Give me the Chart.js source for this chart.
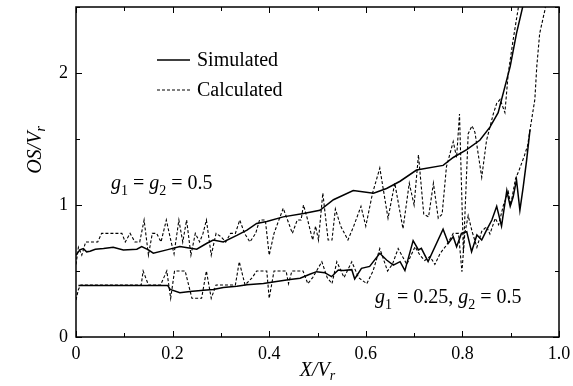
<!DOCTYPE html>
<html><head><meta charset="utf-8">
<script src="https://cdn.jsdelivr.net/npm/chart.js@4/dist/chart.umd.min.js"></script>
<style>html,body{margin:0;padding:0;background:#fff}#wrap{width:573px;height:386px}</style>
</head><body><div id="wrap"><canvas id="c" width="573" height="386"></canvas></div>
<script>
// ---- data ----
const simUpperX = [0, 0.008, 0.015, 0.022, 0.029, 0.040, 0.057, 0.077, 0.098, 0.126, 0.136, 0.150, 0.160, 0.188, 0.215, 0.250, 0.271, 0.284, 0.305, 0.333, 0.354, 0.374, 0.395, 0.429, 0.471, 0.505, 0.533, 0.574, 0.616, 0.643, 0.671, 0.705, 0.760, 0.781, 0.809, 0.836, 0.857, 0.874, 0.899, 0.912, 0.928];
const simUpperY = [0.62, 0.66, 0.67, 0.645, 0.65, 0.665, 0.67, 0.68, 0.66, 0.665, 0.685, 0.66, 0.635, 0.66, 0.685, 0.665, 0.71, 0.735, 0.72, 0.77, 0.81, 0.86, 0.875, 0.91, 0.935, 0.96, 1.04, 1.11, 1.09, 1.125, 1.18, 1.265, 1.30, 1.36, 1.42, 1.49, 1.59, 1.70, 2.05, 2.30, 2.55];

const simLowerX = [0.005, 0.19, 0.195, 0.215, 0.236, 0.264, 0.284, 0.305, 0.333, 0.354, 0.388, 0.415, 0.443, 0.464, 0.484, 0.498, 0.515, 0.529, 0.543, 0.553, 0.571, 0.577, 0.591, 0.608, 0.629, 0.643, 0.657, 0.671, 0.681, 0.698, 0.709, 0.715, 0.729, 0.760, 0.771, 0.781, 0.788, 0.798, 0.809, 0.819, 0.830, 0.840, 0.850, 0.861, 0.871, 0.881, 0.892, 0.899, 0.905, 0.912, 0.919, 0.926, 0.933, 0.940];
const simLowerY = [0.39, 0.39, 0.36, 0.335, 0.345, 0.355, 0.36, 0.375, 0.385, 0.395, 0.405, 0.42, 0.435, 0.445, 0.475, 0.495, 0.487, 0.457, 0.508, 0.503, 0.51, 0.44, 0.52, 0.535, 0.634, 0.583, 0.545, 0.571, 0.503, 0.73, 0.66, 0.672, 0.571, 0.816, 0.71, 0.76, 0.684, 0.785, 0.798, 0.646, 0.773, 0.735, 0.81, 0.886, 0.99, 0.84, 1.11, 0.99, 1.06, 1.19, 0.96, 1.14, 1.34, 1.57];

const calcUpperX = [0.000, 0.005, 0.012, 0.020, 0.030, 0.045, 0.053, 0.065, 0.080, 0.095, 0.102, 0.112, 0.122, 0.132, 0.141, 0.150, 0.158, 0.167, 0.176, 0.187, 0.197, 0.203, 0.213, 0.221, 0.229, 0.238, 0.247, 0.256, 0.263, 0.270, 0.280, 0.290, 0.300, 0.310, 0.320, 0.330, 0.339, 0.349, 0.360, 0.372, 0.380, 0.392, 0.400, 0.410, 0.420, 0.429, 0.438, 0.448, 0.458, 0.466, 0.471, 0.478, 0.490, 0.496, 0.502, 0.511, 0.522, 0.530, 0.537, 0.548, 0.563, 0.575, 0.590, 0.600, 0.614, 0.629, 0.646, 0.660, 0.677, 0.690, 0.700, 0.709, 0.720, 0.730, 0.740, 0.750, 0.758, 0.767, 0.781, 0.788, 0.794, 0.802, 0.812, 0.820, 0.826, 0.840, 0.850, 0.864, 0.871, 0.878, 0.888, 0.895, 0.905, 0.916, 0.922];
const calcUpperY = [0.55, 0.68, 0.62, 0.72, 0.72, 0.72, 0.785, 0.785, 0.785, 0.785, 0.72, 0.785, 0.72, 0.72, 0.886, 0.62, 0.785, 0.785, 0.72, 0.886, 0.72, 0.63, 0.886, 0.72, 0.886, 0.62, 0.785, 0.72, 0.785, 0.886, 0.62, 0.785, 0.76, 0.72, 0.785, 0.785, 0.886, 0.785, 0.72, 0.785, 0.886, 0.886, 0.62, 0.785, 0.886, 0.975, 0.886, 0.785, 0.886, 0.886, 1.00, 0.91, 0.735, 0.84, 0.735, 1.09, 0.735, 0.735, 0.97, 0.84, 0.735, 0.84, 0.99, 0.84, 1.09, 1.28, 0.90, 1.165, 0.82, 1.165, 1.0, 1.38, 0.93, 0.91, 1.165, 0.90, 0.93, 1.29, 1.48, 1.36, 1.69, 0.635, 1.54, 1.60, 1.55, 1.21, 1.49, 1.69, 1.77, 1.80, 1.70, 2.00, 2.25, 2.50, 2.62];

const calcLowerX = [0.000, 0.005, 0.010, 0.135, 0.139, 0.150, 0.175, 0.188, 0.196, 0.204, 0.218, 0.226, 0.240, 0.260, 0.270, 0.280, 0.290, 0.330, 0.338, 0.350, 0.365, 0.374, 0.395, 0.400, 0.410, 0.435, 0.440, 0.447, 0.470, 0.480, 0.490, 0.509, 0.520, 0.530, 0.540, 0.555, 0.571, 0.585, 0.602, 0.615, 0.629, 0.645, 0.655, 0.667, 0.685, 0.702, 0.712, 0.722, 0.733, 0.743, 0.754, 0.768, 0.781, 0.792, 0.799, 0.805, 0.812, 0.820, 0.830, 0.840, 0.850, 0.857, 0.868, 0.875, 0.885, 0.895, 0.900, 0.910, 0.917, 0.928, 0.935, 0.940, 0.950, 0.954, 0.960, 0.971, 0.975];
const calcLowerY = [0.28, 0.36, 0.394, 0.394, 0.50, 0.394, 0.394, 0.50, 0.293, 0.50, 0.50, 0.50, 0.293, 0.293, 0.50, 0.293, 0.394, 0.394, 0.57, 0.394, 0.45, 0.50, 0.50, 0.293, 0.50, 0.50, 0.404, 0.50, 0.50, 0.404, 0.45, 0.57, 0.45, 0.404, 0.57, 0.45, 0.57, 0.45, 0.404, 0.50, 0.67, 0.50, 0.55, 0.67, 0.55, 0.684, 0.62, 0.58, 0.61, 0.55, 0.634, 0.70, 0.785, 0.785, 0.495, 0.785, 0.92, 0.80, 0.68, 0.80, 0.836, 0.78, 0.90, 0.85, 1.0, 1.1, 1.0, 1.2, 1.26, 1.37, 1.45, 1.57, 1.80, 2.05, 2.30, 2.48, 2.60];

const xTickLabels = ['0', '0.2', '0.4', '0.6', '0.8', '1.0'];
const yTickLabels = ['0', '1', '2'];
const legendLabels = ['Simulated', 'Calculated'];

// ---- build ----
const pts = (xs, ys) => xs.map((x, i) => ({x, y: ys[i]}));
const FONT = '"Liberation Serif", "Times New Roman", serif';

function richWidth(ctx, parts, size) {
  let w = 0;
  for (const [t, st] of parts) {
    const sub = st.includes('s'), it = st.includes('i');
    ctx.font = (it ? 'italic ' : '') + (sub ? size * 0.7 : size) + 'px ' + FONT;
    w += ctx.measureText(t).width;
  }
  return w;
}
function rich(ctx, parts, x, y, size) {
  let cx = x;
  for (const [t, st] of parts) {
    const sub = st.includes('s'), it = st.includes('i');
    ctx.font = (it ? 'italic ' : '') + (sub ? size * 0.7 : size) + 'px ' + FONT;
    ctx.fillText(t, cx, y + (sub ? size * 0.28 : 0));
    cx += ctx.measureText(t).width;
  }
}

const framePlugin = {
  id: 'frame',
  afterDatasetsDraw(chart) {
    const {ctx, chartArea: a, scales: {x, y}} = chart;
    ctx.save();
    ctx.strokeStyle = '#000';
    ctx.fillStyle = '#000';
    ctx.lineWidth = 1.5;
    ctx.setLineDash([]);
    ctx.strokeRect(a.left, a.top, a.right - a.left, a.bottom - a.top);
    ctx.lineWidth = 1;
    for (let i = 0; i <= 10; i++) {
      const px = Math.round(x.getPixelForValue(i / 10)) + 0.5;
      const L = i % 2 === 0 ? 6 : 4;
      ctx.beginPath();
      ctx.moveTo(px, a.bottom); ctx.lineTo(px, a.bottom - L);
      ctx.moveTo(px, a.top); ctx.lineTo(px, a.top + L);
      ctx.stroke();
    }
    for (let i = 0; i <= 5; i++) {
      const py = Math.round(y.getPixelForValue(i / 2)) + 0.5;
      const L = i % 2 === 0 ? 6 : 4;
      ctx.beginPath();
      ctx.moveTo(a.left, py); ctx.lineTo(a.left + L, py);
      ctx.moveTo(a.right, py); ctx.lineTo(a.right - L, py);
      ctx.stroke();
    }
    // legend
    ctx.lineWidth = 1.5;
    ctx.beginPath(); ctx.moveTo(157, 60); ctx.lineTo(190, 60); ctx.stroke();
    ctx.lineWidth = 1;
    ctx.setLineDash([3, 2]);
    ctx.beginPath(); ctx.moveTo(157, 90); ctx.lineTo(190, 90); ctx.stroke();
    ctx.setLineDash([]);
    ctx.textBaseline = 'middle';
    ctx.textAlign = 'left';
    ctx.font = '20px ' + FONT;
    ctx.fillText(legendLabels[0], 197, 61);
    ctx.fillText(legendLabels[1], 197, 91);
    // annotations
    ctx.textBaseline = 'alphabetic';
    rich(ctx, [['g', 'i'], ['1', 's'], [' = ', ''], ['g', 'i'], ['2', 's'], [' = 0.5', '']], 111, 189, 20);
    rich(ctx, [['g', 'i'], ['1', 's'], [' = 0.25, ', ''], ['g', 'i'], ['2', 's'], [' = 0.5', '']], 375, 303, 20);
    // x title
    const xt = [['X/V', 'i'], ['r', 'is']];
    ctx.textBaseline = 'middle';
    const wx = richWidth(ctx, xt, 20);
    rich(ctx, xt, (a.left + a.right) / 2 - wx / 2, 371, 20);
    // y title
    const yt = [['OS/V', 'i'], ['r', 'is']];
    const wy = richWidth(ctx, yt, 20);
    ctx.translate(36, 150);
    ctx.rotate(-Math.PI / 2);
    rich(ctx, yt, -wy / 2, 0, 20);
    ctx.restore();
  }
};

const solid = {borderColor: '#000', borderWidth: 1.5, pointRadius: 0, showLine: true, tension: 0, fill: false};
const dashed = {borderColor: '#000', borderWidth: 1.1, borderDash: [3, 2], pointRadius: 0, showLine: true, tension: 0, fill: false};

new Chart(document.getElementById('c'), {
  type: 'scatter',
  data: {
    datasets: [
      Object.assign({label: 'Simulated g1=g2=0.5', data: pts(simUpperX, simUpperY)}, solid),
      Object.assign({label: 'Calculated g1=g2=0.5', data: pts(calcUpperX, calcUpperY)}, dashed),
      Object.assign({label: 'Simulated g1=0.25,g2=0.5', data: pts(simLowerX, simLowerY)}, solid),
      Object.assign({label: 'Calculated g1=0.25,g2=0.5', data: pts(calcLowerX, calcLowerY)}, dashed)
    ]
  },
  options: {
    responsive: false,
    animation: false,
    devicePixelRatio: 1,
    layout: {padding: {left: 0, right: 14, top: 7, bottom: 0}},
    plugins: {legend: {display: false}, tooltip: {enabled: false}},
    scales: {
      x: {
        type: 'linear', min: 0, max: 1,
        grid: {display: false, drawTicks: false},
        border: {display: false},
        ticks: {
          stepSize: 0.2, includeBounds: false, padding: 6, color: '#000',
          font: {family: FONT, size: 18},
          callback: (v) => xTickLabels[Math.round(v * 5)]
        },
        afterFit: (s) => { s.height = 49; s.paddingLeft = 0; s.paddingRight = 0; }
      },
      y: {
        min: 0, max: 2.5,
        grid: {display: false, drawTicks: false},
        border: {display: false},
        ticks: {
          stepSize: 1, includeBounds: false, padding: 8, color: '#000',
          font: {family: FONT, size: 18},
          callback: (v) => yTickLabels[Math.round(v)]
        },
        afterFit: (s) => { s.width = 76; s.paddingTop = 0; s.paddingBottom = 0; }
      }
    }
  },
  plugins: [framePlugin]
});
</script>
</body></html>
